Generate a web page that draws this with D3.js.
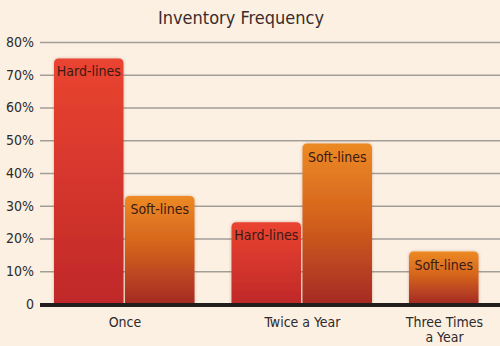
<!DOCTYPE html>
<html><head><meta charset="utf-8">
<script src="https://cdn.jsdelivr.net/npm/d3@7"></script>
<style>
html,body{margin:0;padding:0;background:#fcf0e3;}
svg{display:block;}
text{font-family:"Liberation Sans Narrow","DejaVu Sans Condensed","Roboto Condensed",sans-serif;}
</style></head>
<body>
<svg id="chart" width="500" height="346"></svg>
<script>
const title = "Inventory Frequency";
const categories = ["Once", "Twice a Year", "Three Times\na Year"];
const seriesNames = ["Hard-lines", "Soft-lines"];
const hardLines = [75, 25, null];
const softLines = [33, 49, 16];
const yTicks = [0, 10, 20, 30, 40, 50, 60, 70, 80];
const yTickLabels = ["0", "10%", "20%", "30%", "40%", "50%", "60%", "70%", "80%"];

const svg = d3.select("#chart");
const W = 500, H = 346;
const plotLeft = 40, plotRight = 500, yTop = 42, yBottom = 304;

const y = d3.scaleLinear().domain([0, 80]).range([yBottom, yTop]);

// Build bar list with unit positions: each bar 1 unit, group gap 0.5 unit
const bars = [];
const groups = [];
let u = 0;
categories.forEach((c, i) => {
  const start = u;
  [hardLines[i], softLines[i]].forEach((v, s) => {
    if (v != null) { bars.push({cat: c, series: seriesNames[s], s, value: v, u0: u}); u += 1; }
  });
  groups.push({cat: c, mid: (start + u) / 2});
  u += 0.5;
});
const x = d3.scaleLinear().domain([0, 6]).range([54, 480]);
const unitW = x(1) - x(0);

const defs = svg.append("defs");
const gH = defs.append("linearGradient").attr("id", "gHard").attr("x1", 0).attr("y1", 0).attr("x2", 0).attr("y2", 1);
gH.append("stop").attr("offset", "0%").attr("stop-color", "#ea4430");
gH.append("stop").attr("offset", "100%").attr("stop-color", "#c0282a");
const gS = defs.append("linearGradient").attr("id", "gSoft").attr("x1", 0).attr("y1", 0).attr("x2", 0).attr("y2", 1);
gS.append("stop").attr("offset", "0%").attr("stop-color", "#ec8a24");
gS.append("stop").attr("offset", "45%").attr("stop-color", "#d5641e");
gS.append("stop").attr("offset", "100%").attr("stop-color", "#a52a22");
const f = defs.append("filter").attr("id", "glow").attr("x", "-20%").attr("y", "-20%").attr("width", "140%").attr("height", "140%");
f.append("feGaussianBlur").attr("in", "SourceAlpha").attr("stdDeviation", 1.5).attr("result", "b");
f.append("feFlood").attr("flood-color", "#8a3a20").attr("flood-opacity", 0.35);
f.append("feComposite").attr("in2", "b").attr("operator", "in").attr("result", "s");
const m = f.append("feMerge");
m.append("feMergeNode").attr("in", "s");
m.append("feMergeNode").attr("in", "SourceGraphic");

// Title
svg.append("text").attr("x", 241).attr("y", 24).attr("text-anchor", "middle")
  .attr("font-size", 18).attr("fill", "#3b2b2b").text(title);

// Gridlines and y-axis labels via axis
const yAxis = d3.axisLeft(y).tickValues(yTicks).tickFormat((d, i) => yTickLabels[i])
  .tickSize(-(plotRight - plotLeft)).tickPadding(6);
const ga = svg.append("g").attr("transform", `translate(${plotLeft},0)`).call(yAxis);
ga.select(".domain").remove();
ga.selectAll(".tick line").attr("stroke", "#a39d98").attr("stroke-width", 1.6)
  .filter(d => d === 0).remove();
ga.selectAll(".tick text").attr("font-size", 14).attr("fill", "#2e2a2a")
  .attr("font-family", '"Liberation Sans Narrow","DejaVu Sans Condensed",sans-serif');

// Bars with rounded top
const r = 5;
function barPath(d) {
  const x0 = x(d.u0), x1 = x0 + unitW - 1.5, y0 = y(d.value), yb = y(0);
  return `M${x0},${yb} L${x0},${y0 + r} Q${x0},${y0} ${x0 + r},${y0} L${x1 - r},${y0} Q${x1},${y0} ${x1},${y0 + r} L${x1},${yb} Z`;
}
svg.append("g").selectAll("path").data(bars).join("path")
  .attr("d", barPath)
  .attr("fill", d => d.s === 0 ? "url(#gHard)" : "url(#gSoft)")
  .attr("filter", "url(#glow)");

svg.append("g").selectAll("text").data(bars).join("text")
  .attr("x", d => x(d.u0) + (unitW - 1.5) / 2)
  .attr("y", d => y(d.value) + 18)
  .attr("text-anchor", "middle").attr("font-size", 14).attr("fill", "#3a1a14")
  .text(d => d.series);

// Baseline
svg.append("line").attr("x1", plotLeft).attr("x2", plotRight).attr("y1", y(0) + 1).attr("y2", y(0) + 1)
  .attr("stroke", "#231d1b").attr("stroke-width", 4);

// Category labels
const cl = svg.append("g").selectAll("text").data(groups).join("text")
  .attr("x", d => x(d.mid)).attr("y", 327).attr("text-anchor", "middle")
  .attr("font-size", 14).attr("fill", "#2e2a2a");
cl.each(function(d) {
  const lines = d.cat.split("\n");
  d3.select(this).selectAll("tspan").data(lines).join("tspan")
    .attr("x", x(d.mid)).attr("dy", (l, i) => i === 0 ? 0 : 15).text(l => l);
});
</script>
</body></html>
